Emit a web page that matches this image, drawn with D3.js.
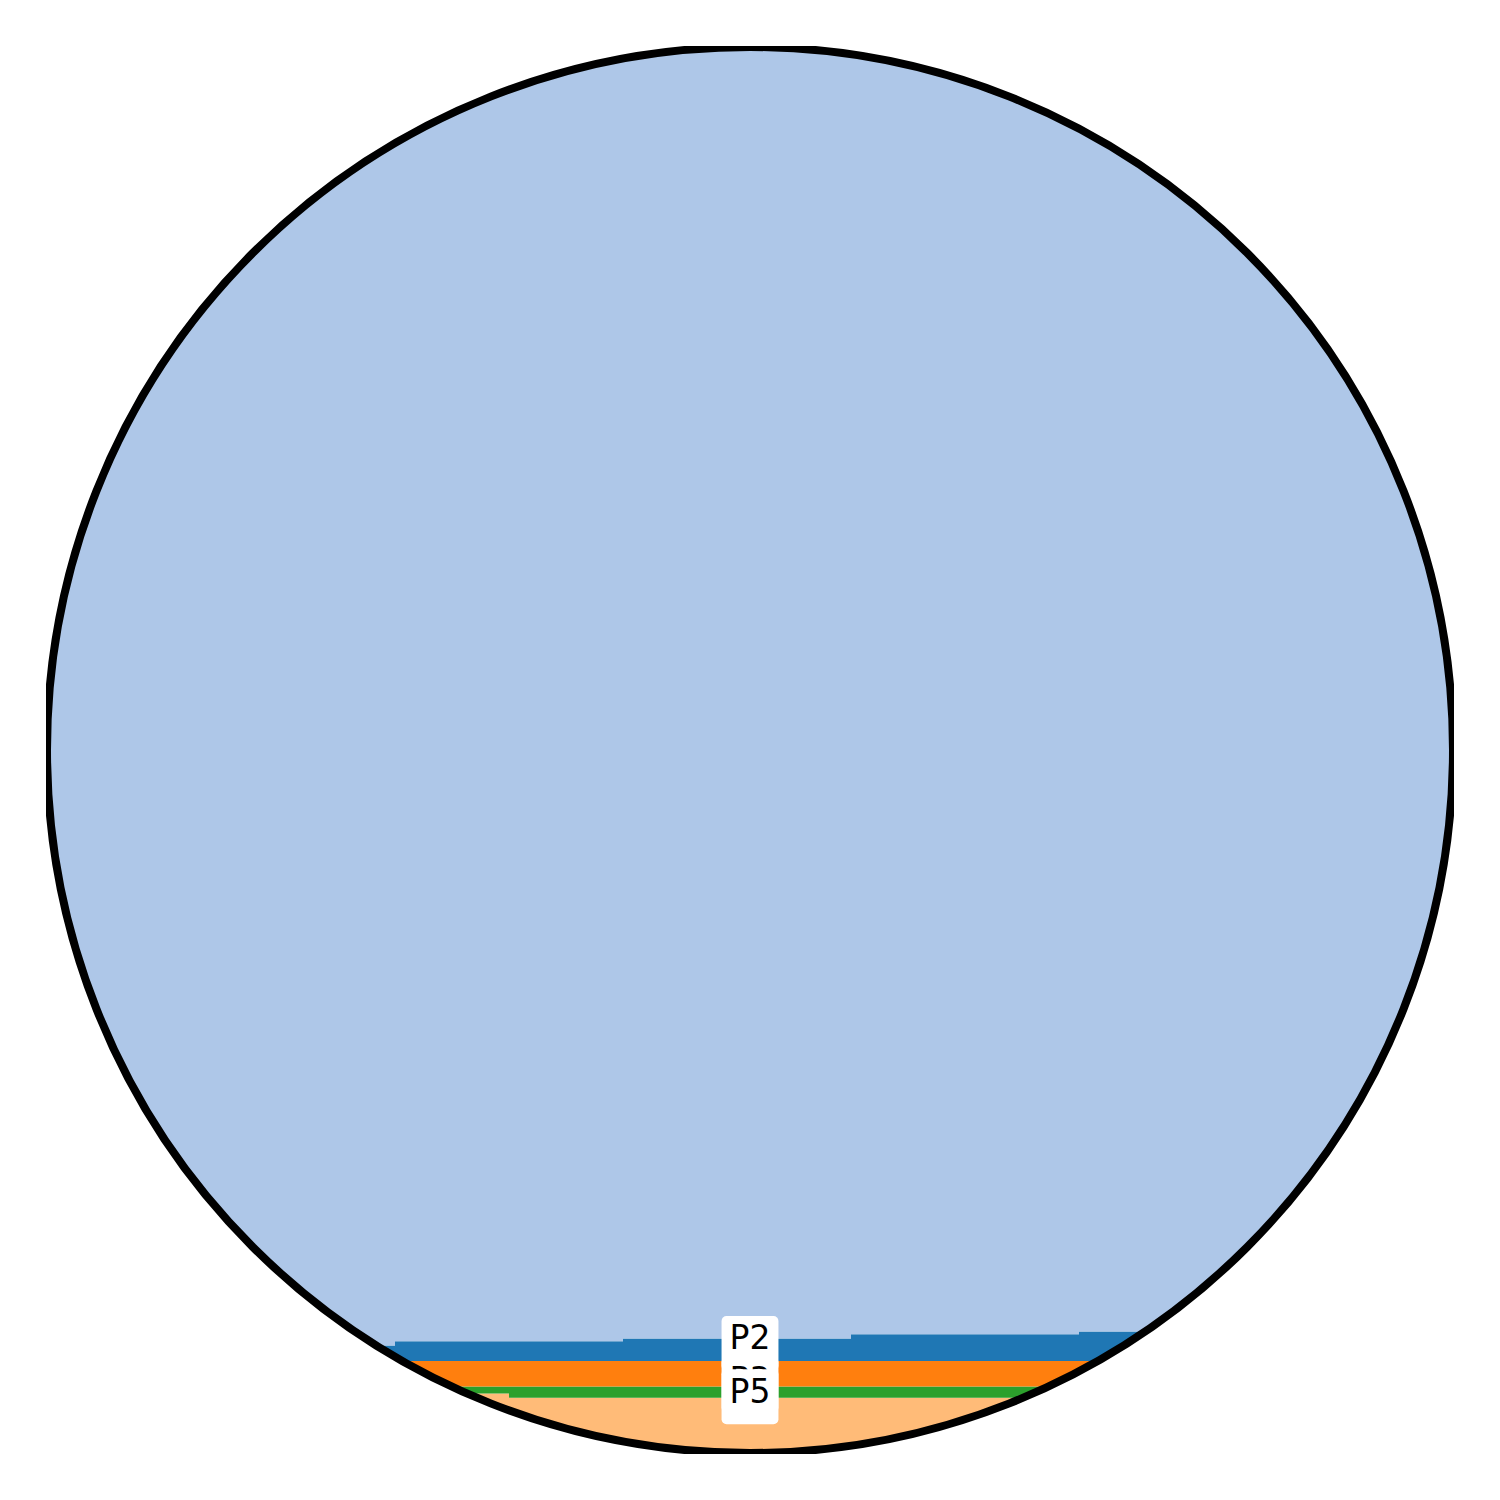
<!DOCTYPE html>
<html>
<head>
<meta charset="utf-8">
<script src="https://d3js.org/d3.v7.min.js"></script>
<style>
  html, body { margin: 0; padding: 0; background: #ffffff; }
  svg { display: block; }
</style>
</head>
<body>
<div id="chart"></div>
<script>
// ---- Data (stacked from bottom to top) ----
const steps = [0, 1, 2, 3, 4, 5, 6, 7, 8, 9, 10, 11, 12];
const seriesNames = ["P4", "P5", "P3", "P2", "P1"];
const P4 = [4.3, 4.3, 4.3, 4.3, 4.0, 4.0, 4.0, 4.0, 4.0, 4.0, 4.0, 4.0, 4.0];
const P5 = [0.5, 0.5, 0.5, 0.5, 0.8, 0.8, 0.8, 0.8, 0.8, 0.8, 0.8, 0.8, 0.8];
const P3 = [1.8, 1.8, 1.8, 1.8, 1.8, 1.8, 1.8, 1.8, 1.8, 1.8, 1.8, 1.8, 1.8];
const P2 = [0.9, 1.0, 1.1, 1.4, 1.4, 1.6, 1.6, 1.9, 1.9, 2.1, 2.1, 2.3, 2.3];
const TOTAL = 100;
const P1 = steps.map((_, i) => TOTAL - P4[i] - P5[i] - P3[i] - P2[i]);
// labels: series name and the value (in y units) at which each label sits
const labelNames = ["P2", "P3", "P5"];
const labelValues = [7.85, 4.9, 4.07];
const colors = { P1: "#aec7e8", P2: "#1f77b4", P3: "#ff7f0e", P4: "#ffbb78", P5: "#2ca02c" };

const valuesBySeries = { P1, P2, P3, P4, P5 };
const table = steps.map((t, i) => {
  const row = { t };
  seriesNames.forEach(n => row[n] = valuesBySeries[n][i]);
  return row;
});

// ---- Layout ----
const W = 1500, H = 1500;
const box = { x0: 46, y0: 46, x1: 1454, y1: 1454 };
const cx = 750, cy = 750, R = 703;

const svg = d3.select("#chart").append("svg")
  .attr("width", W).attr("height", H);

const defs = svg.append("defs");
defs.append("clipPath").attr("id", "circleClip")
  .append("circle").attr("cx", cx).attr("cy", cy).attr("r", R);
defs.append("clipPath").attr("id", "boxClip")
  .append("rect").attr("x", box.x0).attr("y", box.y0)
  .attr("width", box.x1 - box.x0).attr("height", box.y1 - box.y0);

const x = d3.scaleLinear().domain([0, 12]).range([53, 1421]);
const y = d3.scaleLinear().domain([0, TOTAL]).range([box.y1, box.y0]);

const stack = d3.stack().keys(seriesNames);
const layers = stack(table);

const area = d3.area()
  .curve(d3.curveStepAfter)
  .x(d => x(d.data.t))
  .y0(d => y(d[0]))
  .y1(d => y(d[1]));

const g = svg.append("g").attr("clip-path", "url(#boxClip)");
const inner = g.append("g").attr("clip-path", "url(#circleClip)");

inner.selectAll("path.layer")
  .data(layers)
  .join("path")
  .attr("class", "layer")
  .attr("fill", d => colors[d.key])
  .attr("stroke", "none")
  .attr("d", d => {
    // extend the first and last steps to the plot edges
    const pts = d.slice();
    const last = pts[pts.length - 1];
    pts.push(Object.assign([last[0], last[1]], { data: { t: x.invert(box.x1 + 10) } }));
    const first = pts[0];
    pts.unshift(Object.assign([first[0], first[1]], { data: { t: x.invert(box.x0 - 10) } }));
    return area(pts);
  });

g.append("circle")
  .attr("cx", cx).attr("cy", cy).attr("r", R)
  .attr("fill", "none")
  .attr("stroke", "#000000")
  .attr("stroke-width", 8);

// ---- Labels ----
const fontSize = 33;
const padX = 8;

labelNames.forEach((name, i) => {
  const ym = y(labelValues[i]);
  const lg = svg.append("g");
  const txt = lg.append("text")
    .attr("x", cx)
    .attr("y", ym + 6)
    .attr("text-anchor", "middle")
    .attr("font-family", "DejaVu Sans")
    .attr("font-size", fontSize)
    .attr("fill", "#000000")
    .text(name);
  const bb = txt.node().getBBox();
  const bw = bb.width + 2 * padX;
  const bh = 55;
  lg.insert("rect", "text")
    .attr("x", cx - bw / 2)
    .attr("y", ym - bh / 2)
    .attr("width", bw)
    .attr("height", bh)
    .attr("rx", 5).attr("ry", 5)
    .attr("fill", "#ffffff")
    .attr("stroke", "none");
});
</script>
</body>
</html>
